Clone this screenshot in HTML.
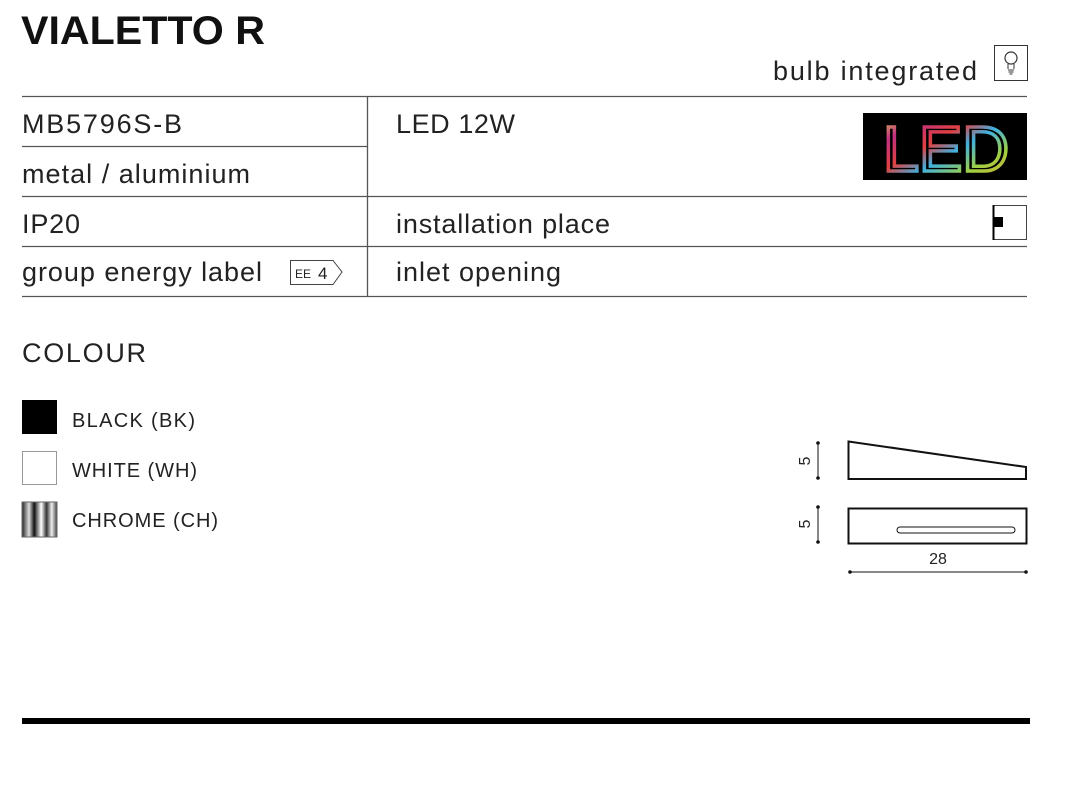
<!DOCTYPE html>
<html><head><style>
html,body{margin:0;padding:0;background:#fff;width:1074px;height:787px;overflow:hidden}
svg{display:block;font-family:"Liberation Sans",sans-serif}
</style></head><body>
<svg width="1074" height="787" viewBox="0 0 1074 787" xmlns="http://www.w3.org/2000/svg">
<defs>
<linearGradient id="led" x1="0" x2="1" y1="0" y2="1">
<stop offset="0" stop-color="#e0e040"/><stop offset="0.2" stop-color="#c03080"/><stop offset="0.4" stop-color="#e04040"/><stop offset="0.55" stop-color="#40b0e0"/><stop offset="0.75" stop-color="#a0d040"/><stop offset="1" stop-color="#e0a030"/>
</linearGradient>
<linearGradient id="chr" x1="0" x2="1">
<stop offset="0" stop-color="#222"/><stop offset="0.2" stop-color="#ddd"/><stop offset="0.35" stop-color="#111"/><stop offset="0.55" stop-color="#fff"/><stop offset="0.7" stop-color="#333"/><stop offset="0.85" stop-color="#eee"/><stop offset="1" stop-color="#444"/>
</linearGradient>
</defs>
<text x="21" y="44" font-size="40" font-weight="bold" fill="#111" textLength="244" lengthAdjust="spacingAndGlyphs">VIALETTO R</text>
<text x="773" y="80" font-size="27" fill="#222" textLength="204" lengthAdjust="spacing">bulb integrated</text>
<rect x="994.5" y="45.5" width="33" height="35" fill="#fff" stroke="#333"/>
<circle cx="1011" cy="58" r="6" fill="none" stroke="#333" stroke-width="1.2"/>
<path d="M1008 64 L1008 69 M1014 64 L1014 69 M1008 70 H1014 M1008.5 72 H1013.5 M1009.5 74 H1012.5" stroke="#333" stroke-width="1"/>
<g stroke="#555" stroke-width="1.3">
<line x1="22" y1="96.5" x2="1027" y2="96.5"/>
<line x1="22" y1="146.5" x2="367" y2="146.5"/>
<line x1="22" y1="196.5" x2="1027" y2="196.5"/>
<line x1="22" y1="246.5" x2="1027" y2="246.5"/>
<line x1="22" y1="296.5" x2="1027" y2="296.5"/>
<line x1="367.5" y1="96" x2="367.5" y2="296"/>
</g>
<g font-size="27" fill="#222" lengthAdjust="spacing">
<text x="22" y="133" textLength="160">MB5796S-B</text>
<text x="22" y="183" textLength="228">metal / aluminium</text>
<text x="22" y="233" textLength="58">IP20</text>
<text x="22" y="281" textLength="240">group energy label</text>
<text x="396" y="133" textLength="119">LED 12W</text>
<text x="396" y="233" textLength="214">installation place</text>
<text x="396" y="281" textLength="165">inlet opening</text>
</g>
<rect x="863" y="113" width="164" height="67" fill="#000"/>
<text x="946" y="171" text-anchor="middle" font-size="64" fill="none" stroke="url(#led)" stroke-width="3.5" textLength="126" lengthAdjust="spacingAndGlyphs">LED</text>
<rect x="993.5" y="205.5" width="33" height="34" fill="#fff" stroke="#444"/>
<line x1="993.5" y1="205" x2="993.5" y2="240" stroke="#000" stroke-width="2"/>
<rect x="993" y="217" width="10" height="10" fill="#000"/>
<path d="M290.5 260.5 H333 L342 272 L333 284.5 H290.5 Z" fill="#fff" stroke="#444"/>
<text x="295" y="278" font-size="12" fill="#222">EE</text>
<text x="318" y="279" font-size="17" fill="#222">4</text>
<text x="22" y="362" font-size="27" fill="#222" textLength="124" lengthAdjust="spacing">COLOUR</text>
<rect x="22" y="400" width="35" height="34" fill="#000"/>
<rect x="22.5" y="451.5" width="34" height="33" fill="#fff" stroke="#999"/>
<rect x="22" y="502" width="35" height="35" fill="url(#chr)" stroke="#666"/>
<g font-size="20" fill="#222" lengthAdjust="spacing">
<text x="72" y="427" textLength="123">BLACK (BK)</text>
<text x="72" y="477" textLength="125">WHITE (WH)</text>
<text x="72" y="527" textLength="146">CHROME (CH)</text>
</g>
<g stroke="#111" fill="none">
<path d="M848.5 441.5 L1026 467 V479 H848.5 Z" stroke-width="2"/>
<rect x="848.5" y="508.5" width="178" height="35" stroke-width="2"/>
<rect x="897" y="527" width="118" height="6" rx="3" stroke-width="1"/>
<line x1="818" y1="443" x2="818" y2="478" stroke-width="1"/>
<line x1="818" y1="507" x2="818" y2="542" stroke-width="1"/>
<line x1="850" y1="572" x2="1026" y2="572" stroke-width="1"/>
</g>
<g fill="#111">
<circle cx="818" cy="443" r="1.8"/><circle cx="818" cy="478" r="1.8"/>
<circle cx="818" cy="507" r="1.8"/><circle cx="818" cy="542" r="1.8"/>
<circle cx="850" cy="572" r="1.8"/><circle cx="1026" cy="572" r="1.8"/>
</g>
<text transform="translate(810,461) rotate(-90)" text-anchor="middle" font-size="16" fill="#222">5</text>
<text transform="translate(810,524) rotate(-90)" text-anchor="middle" font-size="16" fill="#222">5</text>
<text x="938" y="564" text-anchor="middle" font-size="16" fill="#222">28</text>
<rect x="22" y="718" width="1008" height="6" fill="#000"/>
</svg>
</body></html>
